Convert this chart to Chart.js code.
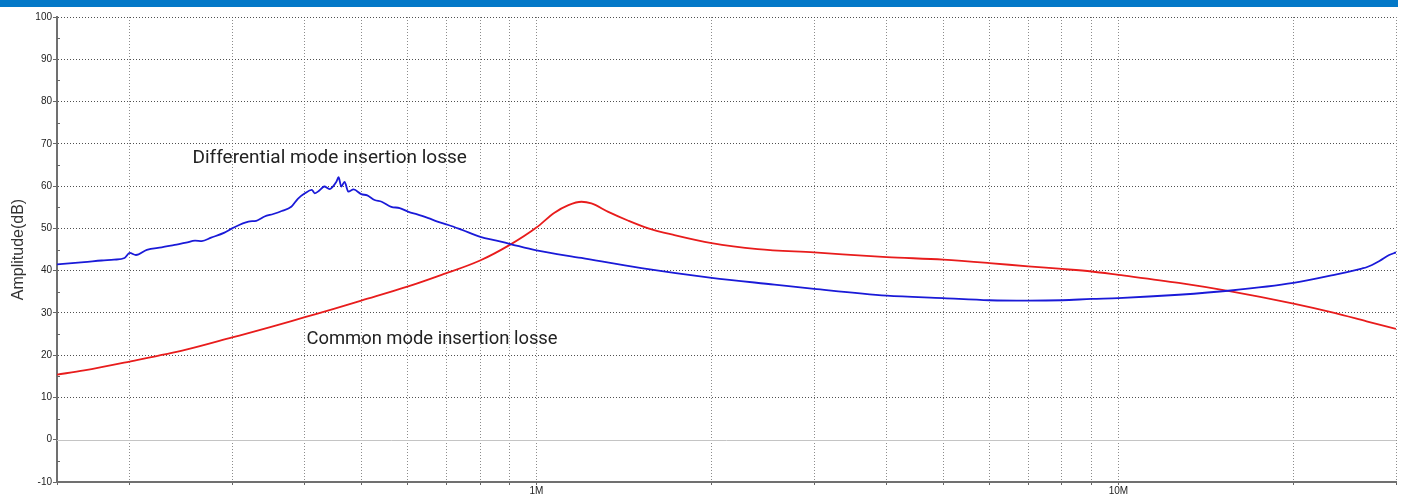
<!DOCTYPE html>
<html>
<head>
<meta charset="utf-8">
<script src="https://cdn.jsdelivr.net/npm/chart.js@4.4.0/dist/chart.umd.min.js"></script>
<style>
html,body{margin:0;padding:0;background:#fff;}
#chartBox{position:absolute;left:0;top:0;width:1402px;height:496px;}
#topBar{position:absolute;left:0;top:0;width:1398px;height:7px;background:#0479c8;}
</style>
</head>
<body>
<div id="chartBox"><canvas id="lossChart" width="1402" height="496"></canvas></div>
<div id="topBar"></div>
<script>
//======================================================
// DATA (frequency in MHz, loss in dB)
//======================================================

const dmFreq = [
    0.15, 0.167, 0.179, 0.188, 0.196, 0.2, 0.205, 0.214, 0.227, 0.239,
    0.25, 0.259, 0.266, 0.276, 0.291, 0.3, 0.32, 0.33, 0.341, 0.353,
    0.365, 0.379, 0.389, 0.4, 0.411, 0.416, 0.424, 0.432, 0.441, 0.453,
    0.457, 0.462, 0.468, 0.475, 0.485, 0.5, 0.512, 0.527, 0.542, 0.563,
    0.582, 0.603, 0.624, 0.652, 0.676, 0.706, 0.743, 0.801, 0.854, 0.902,
    1.0, 1.195, 1.515, 2.0, 2.564, 3.0, 4.0, 5.0, 6.0, 7.0,
    8.0, 9.0, 10, 12.7, 15.6, 20, 23.5, 26.2, 26.7, 28.1,
    29.2, 30
];

const dmLoss = [
    41.5, 42.0, 42.4, 42.6, 43.0, 44.2, 43.7, 44.9, 45.5, 46.1,
    46.6, 47.1, 47.0, 47.8, 49.0, 50.0, 51.6, 51.8, 52.8, 53.4,
    54.1, 55.1, 57.0, 58.3, 59.1, 58.3, 59.0, 59.9, 59.3, 61.0,
    62.1, 59.9, 61.0, 58.7, 59.2, 58.1, 57.8, 56.7, 56.3, 55.1,
    54.8, 53.9, 53.3, 52.4, 51.6, 50.8, 49.7, 48.0, 47.1, 46.3,
    44.8, 43.0, 40.6, 38.3, 36.7, 35.7, 34.1, 33.5, 33.0, 32.9,
    33.0, 33.3, 33.5, 34.3, 35.3, 37.1, 39.0, 40.5, 40.8, 42.3,
    43.7, 44.3
];

const cmFreq = [
    0.15, 0.167, 0.2, 0.25, 0.3, 0.35, 0.4, 0.45, 0.5, 0.6,
    0.687, 0.8, 0.9, 1.0, 1.074, 1.135, 1.195, 1.243, 1.329, 1.439,
    1.557, 1.726, 2.0, 2.4, 3.0, 4, 5, 6, 7, 8,
    9, 10, 12.7, 15.6, 20, 23.5, 26.7, 30
];

const cmLoss = [
    15.4, 16.4, 18.5, 21.3, 24.2, 26.7, 29.0, 31.0, 32.9, 36.2,
    39.0, 42.4, 46.1, 50.2, 53.7, 55.5, 56.3, 55.9, 53.9, 51.8,
    50.0, 48.4, 46.5, 45.1, 44.3, 43.2, 42.6, 41.8, 41.0, 40.4,
    39.8, 39.0, 37.1, 35.1, 32.2, 30.0, 28.0, 26.2
];

const xTickValues = [
    0.15, 0.2, 0.3, 0.4, 0.5, 0.6, 0.7, 0.8, 0.9,
    1, 2, 3, 4, 5, 6, 7, 8, 9,
    10, 20, 30
];

const xTickLabels = { 1: "1M", 10: "10M" };

const yMinorTicks = [-5, 5, 15, 25, 35, 45, 55, 65, 75, 85, 95];

const noteTexts = [
    "Differential mode insertion losse",
    "Common mode insertion losse"
];

//======================================================
// OVERLAY PLUGIN (zero line, minor ticks, notes)
//======================================================

const overlayPlugin = {

    id: "overlay",

    beforeDatasetsDraw(chart){

        const ctx = chart.ctx;
        const area = chart.chartArea;
        const y = chart.scales.y;

        ctx.save();
        ctx.lineWidth = 1;

        const y0 = Math.round(y.getPixelForValue(0)) + 0.5;
        ctx.strokeStyle = "#c4c4c4";
        ctx.beginPath();
        ctx.moveTo(area.left, y0);
        ctx.lineTo(area.right, y0);
        ctx.stroke();

        ctx.strokeStyle = "#666";
        yMinorTicks.forEach(function(v){
            const py = Math.round(y.getPixelForValue(v)) + 0.5;
            ctx.beginPath();
            ctx.moveTo(area.left, py);
            ctx.lineTo(area.left + 3, py);
            ctx.stroke();
        });

        ctx.restore();

    },

    afterDraw(chart){

        const ctx = chart.ctx;
        const x = chart.scales.x;
        const y = chart.scales.y;
        const anchors = [[0.2564, 66.6], [0.4025, 23.8]];
        const sizes = [19, 18.4];

        ctx.save();
        ctx.fillStyle = "#222";
        ctx.textAlign = "left";
        ctx.textBaseline = "middle";

        noteTexts.forEach(function(text, i){
            ctx.font = sizes[i] + "px Roboto";
            ctx.fillText(
                text,
                x.getPixelForValue(anchors[i][0]),
                y.getPixelForValue(anchors[i][1])
            );
        });

        ctx.restore();

    }

};

//======================================================
// BUILD CHART
//======================================================

const ctx = document.getElementById("lossChart").getContext("2d");

const lossChart = new Chart(ctx,{

    type:"line",

    data:{

        datasets:[
            {
                label:"Differential mode",
                data:dmFreq.map(function(f, i){ return {x:f, y:dmLoss[i]}; }),
                borderColor:"#1a1ad8",
                borderWidth:1.8,
                pointRadius:0,
                cubicInterpolationMode:"monotone"
            },
            {
                label:"Common mode",
                data:cmFreq.map(function(f, i){ return {x:f, y:cmLoss[i]}; }),
                borderColor:"#e81c1c",
                borderWidth:1.8,
                pointRadius:0,
                cubicInterpolationMode:"monotone"
            }
        ]

    },

    options:{

        responsive:false,
        animation:false,
        devicePixelRatio:1,

        layout:{
            padding:{ top:17, right:6, left:0, bottom:0 }
        },

        plugins:{
            legend:{ display:false },
            tooltip:{ enabled:false }
        },

        scales:{

            x:{
                type:"logarithmic",
                min:0.15,
                max:30,
                afterBuildTicks:function(scale){
                    scale.ticks = xTickValues.map(function(v){ return {value:v}; });
                },
                afterFit:function(scale){
                    scale.height = 14;
                },
                ticks:{
                    autoSkip:false,
                    maxRotation:0,
                    padding:0,
                    color:"#222",
                    font:{ family:"Liberation Sans", size:10 },
                    callback:function(value){
                        return xTickLabels[value] || "";
                    }
                },
                grid:{
                    color:"#8c8c8c",
                    tickColor:"#666",
                    tickLength:3
                },
                border:{
                    color:"#707070",
                    width:2,
                    dash:[1,2]
                }
            },

            y:{
                min:-10,
                max:100,
                afterFit:function(scale){
                    scale.width = 57;
                },
                ticks:{
                    stepSize:10,
                    padding:1,
                    color:"#222",
                    font:{ family:"Liberation Sans", size:10 }
                },
                grid:{
                    color:function(c){
                        return c.tick && c.tick.value === 0 ? "transparent" : "#505050";
                    },
                    tickColor:"#666",
                    tickLength:4
                },
                border:{
                    color:"#707070",
                    width:2,
                    dash:[1,2]
                },
                title:{
                    display:true,
                    text:"Amplitude(dB)",
                    color:"#333",
                    font:{ family:"Liberation Sans", size:16 },
                    padding:{ top:9, bottom:0 }
                }
            }

        }

    },

    plugins:[overlayPlugin]

});
</script>
</body>
</html>
